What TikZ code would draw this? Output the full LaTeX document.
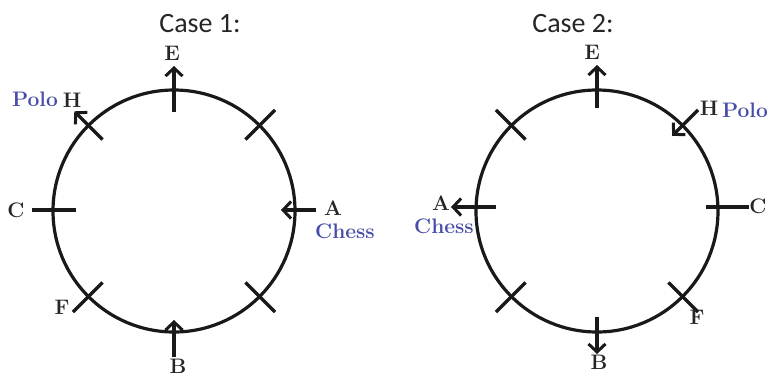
\documentclass[tikz,border=0pt]{standalone}
\usepackage{fontspec}
\newfontfamily\casefont{Carlito}
\usetikzlibrary{arrows.meta}
\definecolor{lblblue}{RGB}{72,78,168}
\tikzset{
  ring/.style={line width=3.2pt, black!90},
  tick/.style={line width=3.2pt, black!90},
  arr/.style={tick, -{Straight Barb[length=8pt,width=17pt,line width=3pt]}},
  lbl/.style={font=\fontsize{21}{21}\selectfont\bfseries, inner sep=0pt, text=black!85},
  blbl/.style={lbl, text=lblblue},
  casettl/.style={font=\casefont\fontsize{28}{28}\selectfont, inner sep=0pt, text=black!85}
}
\begin{document}
\begin{tikzpicture}[x=1pt,y=-1pt]
\useasboundingbox (0,0) rectangle (769,376);
% ---------- Case 1 ----------
\node[casettl] (t1) at (200,24) {Case 1:};
\coordinate (o1) at (174,211);
\draw[ring] (o1) circle [radius=121];
\coordinate (e1a) at (174,112);  \coordinate (e1b) at (174,66);
\coordinate (h1a) at (102.6,139.6); \coordinate (h1b) at (74.3,111.3);
\coordinate (u1a) at (245.4,139.6); \coordinate (u1b) at (275.1,109.9);
\coordinate (c1a) at (32,210);   \coordinate (c1b) at (76,210);
\coordinate (a1a) at (316,210);  \coordinate (a1b) at (281,210);
\coordinate (f1a) at (102.6,282.4); \coordinate (f1b) at (72.9,312.1);
\coordinate (l1a) at (245.4,282.4); \coordinate (l1b) at (275.1,312.1);
\coordinate (b1a) at (174,357);  \coordinate (b1b) at (174,320);
\draw[arr] (e1a) -- (e1b);
\draw[arr] (h1a) -- (h1b);
\draw[tick] (u1a) -- (u1b);
\draw[tick] (c1a) -- (c1b);
\draw[arr] (a1a) -- (a1b);
\draw[tick] (f1a) -- (f1b);
\draw[tick] (l1a) -- (l1b);
\draw[arr] (b1a) -- (b1b);
\node[lbl] (E1) at (172,53) {E};
\node[lbl] (H1) at (72,100) {H};
\node[blbl] (P1) at (35,99) {Polo};
\node[lbl] (C1) at (16,210) {C};
\node[lbl] (A1) at (333,208) {A};
\node[blbl] (S1) at (345,231) {Chess};
\node[lbl] (F1) at (62,307) {F};
\node[lbl] (B1) at (178,366) {B};
% ---------- Case 2 ----------
\node[casettl] (t2) at (573,24) {Case 2:};
\coordinate (o2) at (597,211);
\draw[ring] (o2) circle [radius=121];
\coordinate (e2a) at (597,108);  \coordinate (e2b) at (597,65);
\coordinate (h2a) at (698.1,109.9); \coordinate (h2b) at (672.2,135.8);
\coordinate (u2a) at (525.6,139.6); \coordinate (u2b) at (495.9,109.9);
\coordinate (a2a) at (496,207);  \coordinate (a2b) at (451,207);
\coordinate (c2a) at (706,207);  \coordinate (c2b) at (749,207);
\coordinate (l2a) at (525.6,282.4); \coordinate (l2b) at (495.9,312.1);
\coordinate (f2a) at (668.4,282.4); \coordinate (f2b) at (698.1,312.1);
\coordinate (b2a) at (597,317);  \coordinate (b2b) at (597,354);
\draw[arr] (e2a) -- (e2b);
\draw[arr] (h2a) -- (h2b);
\draw[tick] (u2a) -- (u2b);
\draw[arr] (a2a) -- (a2b);
\draw[tick] (c2a) -- (c2b);
\draw[tick] (l2a) -- (l2b);
\draw[tick] (f2a) -- (f2b);
\draw[arr] (b2a) -- (b2b);
\node[lbl] (E2) at (592,52) {E};
\node[lbl] (H2) at (709,108) {H};
\node[blbl] (P2) at (745,110) {Polo};
\node[lbl] (A2) at (441,203) {A};
\node[blbl] (S2) at (444,226) {Chess};
\node[lbl] (C2) at (758,206) {C};
\node[lbl] (F2) at (697,317) {F};
\node[lbl] (B2) at (599,362) {B};
\end{tikzpicture}
\end{document}
